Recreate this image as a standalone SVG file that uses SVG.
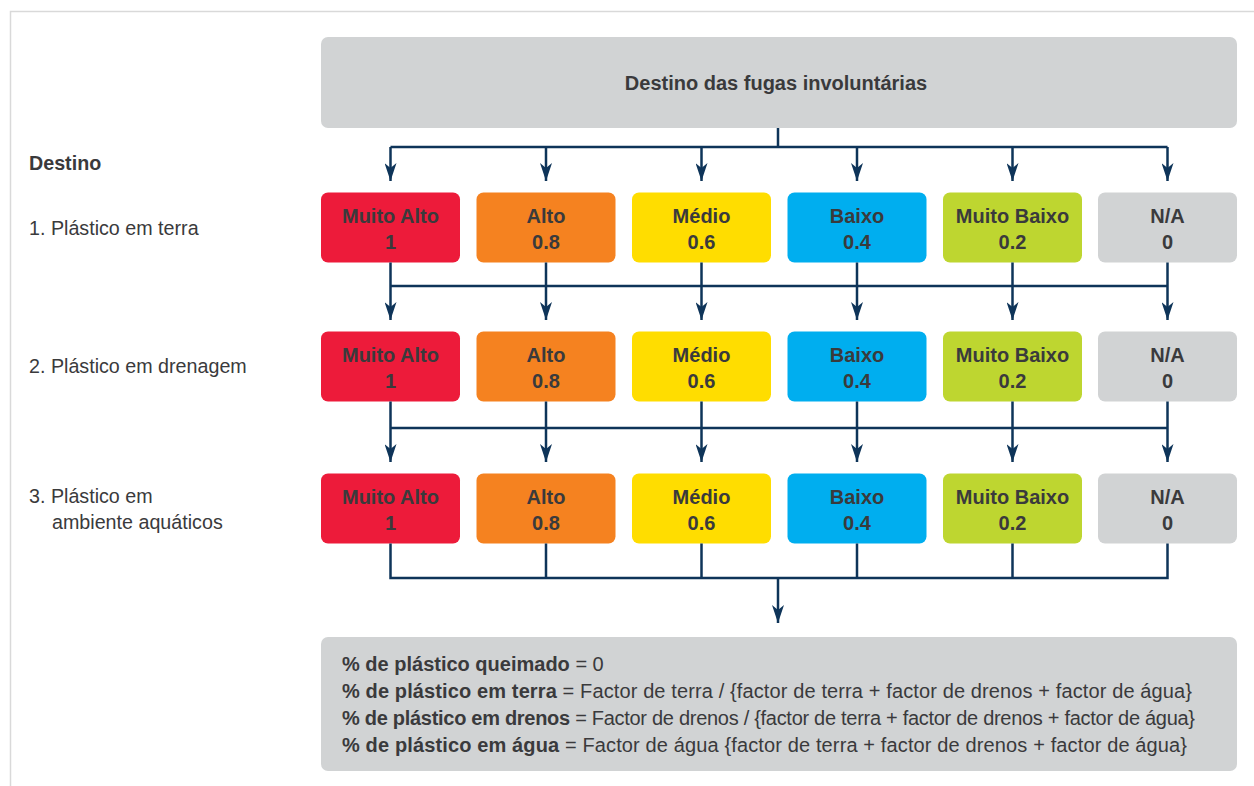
<svg xmlns="http://www.w3.org/2000/svg" width="1254" height="786" viewBox="0 0 1254 786">
<defs>
<style>
.t{font-family:"Liberation Sans",Arial,sans-serif;fill:#3a3a3c}
.b{font-weight:bold}
.lbl{font-size:19.7px}
.box{font-size:20px;font-weight:bold;text-anchor:middle}
.c{fill:none;stroke:#0e3459;stroke-width:2.5}
.r{fill:#ed1b3a}.o{fill:#f58220}.y{fill:#ffdd00}.bl{fill:#00aeef}.g{fill:#bed630}.n{fill:#d1d3d4}
</style>
<marker id="ad" viewBox="-9 -6 18 12" markerWidth="18" markerHeight="12" refX="9" refY="0" orient="auto" markerUnits="userSpaceOnUse">
<path d="M-9,-6 L9,0 L-9,6 L-4,0 Z" fill="#0e3459"/>
</marker>
</defs>
<rect width="1254" height="786" fill="#fff"/>
<path d="M10.5,786 V11.5 H1254" fill="none" stroke="#d9d9d9" stroke-width="1.5"/>

<g id="header">
<rect x="321" y="37" width="916" height="91" rx="7" class="n"/>
<text x="776" y="90" class="t b" font-size="20" text-anchor="middle">Destino das fugas involuntárias</text>
</g>

<g id="labels">
<text x="29" y="170" class="t b lbl">Destino</text>
<text x="29" y="235" class="t lbl">1. Plástico em terra</text>
<text x="29" y="373" class="t lbl">2. Plástico em drenagem</text>
<text x="29" y="503" class="t lbl">3. Plástico em</text>
<text x="52" y="529" class="t lbl">ambiente aquáticos</text>
</g>

<g id="row1">
<g id="r1-muitoalto"><rect x="321" y="192.5" width="139" height="70" rx="7" class="r"/><text class="t box" x="390.5" y="223">Muito Alto</text><text class="t box" x="390.5" y="249">1</text></g>
<g id="r1-alto"><rect x="476.5" y="192.5" width="139" height="70" rx="7" class="o"/><text class="t box" x="546" y="223">Alto</text><text class="t box" x="546" y="249">0.8</text></g>
<g id="r1-medio"><rect x="632" y="192.5" width="139" height="70" rx="7" class="y"/><text class="t box" x="701.5" y="223">Médio</text><text class="t box" x="701.5" y="249">0.6</text></g>
<g id="r1-baixo"><rect x="787.5" y="192.5" width="139" height="70" rx="7" class="bl"/><text class="t box" x="857" y="223">Baixo</text><text class="t box" x="857" y="249">0.4</text></g>
<g id="r1-muitobaixo"><rect x="943" y="192.5" width="139" height="70" rx="7" class="g"/><text class="t box" x="1012.5" y="223">Muito Baixo</text><text class="t box" x="1012.5" y="249">0.2</text></g>
<g id="r1-na"><rect x="1098" y="192.5" width="139" height="70" rx="7" class="n"/><text class="t box" x="1167.5" y="223">N/A</text><text class="t box" x="1167.5" y="249">0</text></g>
</g>

<g id="row2">
<g id="r2-muitoalto"><rect x="321" y="331.5" width="139" height="70" rx="7" class="r"/><text class="t box" x="390.5" y="362">Muito Alto</text><text class="t box" x="390.5" y="388">1</text></g>
<g id="r2-alto"><rect x="476.5" y="331.5" width="139" height="70" rx="7" class="o"/><text class="t box" x="546" y="362">Alto</text><text class="t box" x="546" y="388">0.8</text></g>
<g id="r2-medio"><rect x="632" y="331.5" width="139" height="70" rx="7" class="y"/><text class="t box" x="701.5" y="362">Médio</text><text class="t box" x="701.5" y="388">0.6</text></g>
<g id="r2-baixo"><rect x="787.5" y="331.5" width="139" height="70" rx="7" class="bl"/><text class="t box" x="857" y="362">Baixo</text><text class="t box" x="857" y="388">0.4</text></g>
<g id="r2-muitobaixo"><rect x="943" y="331.5" width="139" height="70" rx="7" class="g"/><text class="t box" x="1012.5" y="362">Muito Baixo</text><text class="t box" x="1012.5" y="388">0.2</text></g>
<g id="r2-na"><rect x="1098" y="331.5" width="139" height="70" rx="7" class="n"/><text class="t box" x="1167.5" y="362">N/A</text><text class="t box" x="1167.5" y="388">0</text></g>
</g>

<g id="row3">
<g id="r3-muitoalto"><rect x="321" y="473.5" width="139" height="70" rx="7" class="r"/><text class="t box" x="390.5" y="504">Muito Alto</text><text class="t box" x="390.5" y="530">1</text></g>
<g id="r3-alto"><rect x="476.5" y="473.5" width="139" height="70" rx="7" class="o"/><text class="t box" x="546" y="504">Alto</text><text class="t box" x="546" y="530">0.8</text></g>
<g id="r3-medio"><rect x="632" y="473.5" width="139" height="70" rx="7" class="y"/><text class="t box" x="701.5" y="504">Médio</text><text class="t box" x="701.5" y="530">0.6</text></g>
<g id="r3-baixo"><rect x="787.5" y="473.5" width="139" height="70" rx="7" class="bl"/><text class="t box" x="857" y="504">Baixo</text><text class="t box" x="857" y="530">0.4</text></g>
<g id="r3-muitobaixo"><rect x="943" y="473.5" width="139" height="70" rx="7" class="g"/><text class="t box" x="1012.5" y="504">Muito Baixo</text><text class="t box" x="1012.5" y="530">0.2</text></g>
<g id="r3-na"><rect x="1098" y="473.5" width="139" height="70" rx="7" class="n"/><text class="t box" x="1167.5" y="504">N/A</text><text class="t box" x="1167.5" y="530">0</text></g>
</g>

<g id="result">
<rect x="321" y="637" width="916" height="134" rx="7" class="n"/>
<text class="t" font-size="20" x="342" y="671"><tspan class="b">% de plástico queimado</tspan> = 0</text>
<text class="t" font-size="20" x="342" y="698" textLength="850" lengthAdjust="spacing"><tspan class="b">% de plástico em terra</tspan> = Factor de terra / {factor de terra + factor de drenos + factor de água}</text>
<text class="t" font-size="20" x="342" y="725" textLength="853" lengthAdjust="spacing"><tspan class="b">% de plástico em drenos</tspan> = Factor de drenos / {factor de terra + factor de drenos + factor de água}</text>
<text class="t" font-size="20" x="342" y="752" textLength="845" lengthAdjust="spacing"><tspan class="b">% de plástico em água</tspan> = Factor de água {factor de terra + factor de drenos + factor de água}</text>
</g>

<g id="connectors">
<path class="c" d="M778,128 V147 M390.5,147 H1167.5"/>
<path class="c" marker-end="url(#ad)" d="M390.5,147 V181"/>
<path class="c" marker-end="url(#ad)" d="M546,147 V181"/>
<path class="c" marker-end="url(#ad)" d="M701.5,147 V181"/>
<path class="c" marker-end="url(#ad)" d="M857,147 V181"/>
<path class="c" marker-end="url(#ad)" d="M1012.5,147 V181"/>
<path class="c" marker-end="url(#ad)" d="M1167.5,147 V181"/>

<path class="c" d="M390.5,286 H1167.5"/>
<path class="c" marker-end="url(#ad)" d="M390.5,262.5 V320"/>
<path class="c" marker-end="url(#ad)" d="M546,262.5 V320"/>
<path class="c" marker-end="url(#ad)" d="M701.5,262.5 V320"/>
<path class="c" marker-end="url(#ad)" d="M857,262.5 V320"/>
<path class="c" marker-end="url(#ad)" d="M1012.5,262.5 V320"/>
<path class="c" marker-end="url(#ad)" d="M1167.5,262.5 V320"/>

<path class="c" d="M390.5,428 H1167.5"/>
<path class="c" marker-end="url(#ad)" d="M390.5,401.5 V462"/>
<path class="c" marker-end="url(#ad)" d="M546,401.5 V462"/>
<path class="c" marker-end="url(#ad)" d="M701.5,401.5 V462"/>
<path class="c" marker-end="url(#ad)" d="M857,401.5 V462"/>
<path class="c" marker-end="url(#ad)" d="M1012.5,401.5 V462"/>
<path class="c" marker-end="url(#ad)" d="M1167.5,401.5 V462"/>

<path class="c" d="M390.5,543.5 V578 H1167.5 V543.5 M546,543.5 V578 M701.5,543.5 V578 M857,543.5 V578 M1012.5,543.5 V578"/>
<path class="c" marker-end="url(#ad)" d="M778,578 V623"/>
</g>
</svg>
